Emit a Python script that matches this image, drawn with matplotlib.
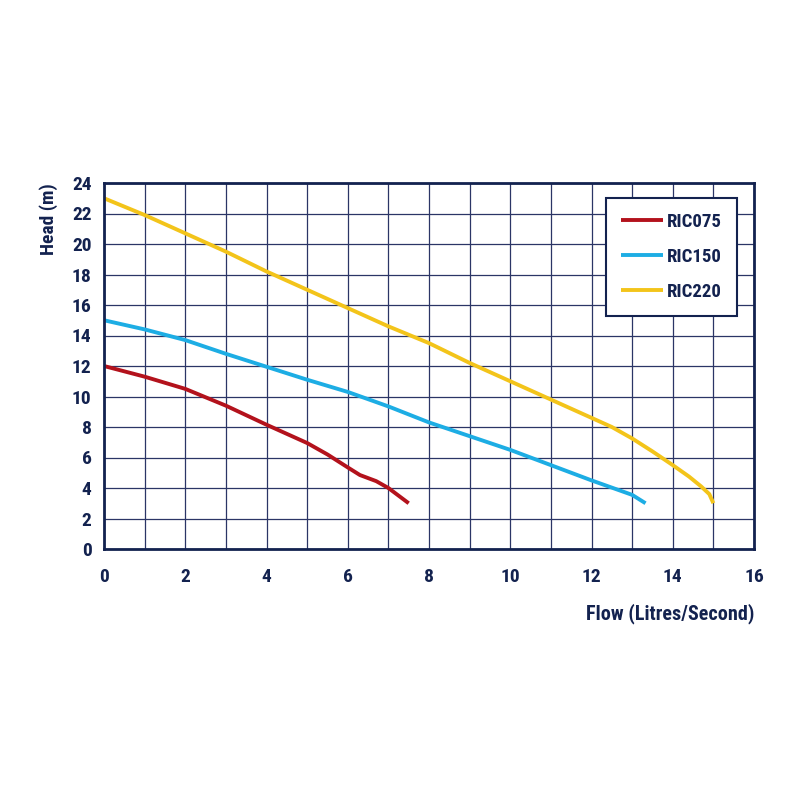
import matplotlib
matplotlib.use('Agg')
import matplotlib.pyplot as plt

plt.rcParams['font.family'] = ['Roboto Condensed', 'Roboto', 'DejaVu Sans']

navy = '#13224f'

# pump curves: flow (L/s) vs head (m)
ric075_flow = [0, 1, 2, 3, 4, 5, 5.5, 6, 6.3, 6.7, 7, 7.5]
ric075_head = [12, 11.3, 10.5, 9.4, 8.15, 6.95, 6.2, 5.35, 4.85, 4.45, 4.0, 3.0]

ric150_flow = [0, 1, 2, 3, 4, 5, 6, 7, 8, 10, 12, 13, 13.33]
ric150_head = [15, 14.4, 13.7, 12.8, 11.95, 11.1, 10.3, 9.35, 8.3, 6.5, 4.5, 3.55, 3.0]

ric220_flow = [0, 1, 2, 3, 4, 5, 6, 7, 8, 9, 10, 11, 12, 12.5, 13, 13.5, 14, 14.4, 14.7, 14.9, 15]
ric220_head = [23, 21.9, 20.7, 19.5, 18.2, 17.0, 15.8, 14.6, 13.5, 12.2, 11.0, 9.8, 8.6, 8.0, 7.25, 6.4, 5.5, 4.75, 4.1, 3.6, 3.0]

x_ticks = list(range(0, 17, 2))
y_ticks = list(range(0, 25, 2))

fig = plt.figure(figsize=(8, 8), dpi=100)
ax = fig.add_axes([0.13, 0.31375, 0.8125, 0.4575])

ax.plot(ric075_flow, ric075_head, color='#b3121c', lw=2.8, label='RIC075', solid_capstyle='butt')
ax.plot(ric150_flow, ric150_head, color='#1dade4', lw=2.8, label='RIC150', solid_capstyle='butt')
ax.plot(ric220_flow, ric220_head, color='#f3c41a', lw=2.8, label='RIC220', solid_capstyle='butt')

ax.set_xlim(0, 16)
ax.set_ylim(0, 24)
ax.set_xticks(x_ticks)
ax.set_yticks(y_ticks)
ax.set_xticks(range(0, 17), minor=True)
ax.grid(True, which='both', color='#2b3566', lw=0.9)
ax.set_axisbelow(True)
ax.tick_params(which='both', length=0)
ax.tick_params(axis='x', pad=14, labelsize=14, labelcolor=navy)
ax.tick_params(axis='y', pad=9, labelsize=14, labelcolor=navy)
for lab in ax.get_xticklabels() + ax.get_yticklabels():
    lab.set_fontweight('bold')
for sp in ax.spines.values():
    sp.set_color(navy)
    sp.set_linewidth(2)

ax.set_xlabel('Flow (Litres/Second)', loc='right', fontsize=14.5, fontweight='bold', color=navy, labelpad=12)
ax.set_ylabel('Head (m)', loc='top', fontsize=14, fontweight='bold', color=navy, labelpad=10)

leg = ax.legend(loc='upper right', bbox_to_anchor=(0.974, 0.959), fontsize=13.5, handlelength=2.25,
                labelspacing=0.9, borderpad=0.8, fancybox=False, framealpha=1,
                edgecolor=navy, handletextpad=0.2, borderaxespad=0)
leg.get_frame().set_linewidth(1.5)
for t in leg.get_texts():
    t.set_color(navy)
    t.set_fontweight('bold')

fig.savefig('out.png', dpi=100, facecolor='white')
